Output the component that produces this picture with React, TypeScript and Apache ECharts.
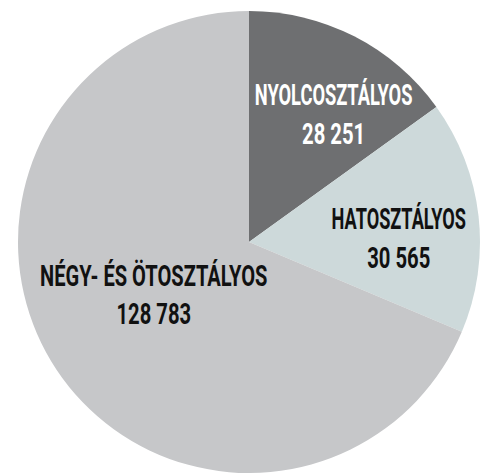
import React, { useEffect, useRef } from "react";
import * as echarts from "echarts";

const categories = ["NYOLCOSZTÁLYOS", "HATOSZTÁLYOS", "NÉGY- ÉS ÖTOSZTÁLYOS"];
const values = [28251, 30565, 128783];
const colors = ["#6e6f71", "#cdd9da", "#c6c7c9"];
const labelColors = ["#ffffff", "#111111", "#111111"];
const labelShift = [
  [32, -24],
  [35, 10],
  [1, -10],
];
const nameScale = [0.61, 0.605, 0.67];
const valueScale = 0.675;

const fmt = (v: number) => String(v).replace(/\B(?=(\d{3})+(?!\d))/g, " ");

export default function App() {
  const ref = useRef<HTMLDivElement>(null);
  useEffect(() => {
    document.body.style.margin = "0";
    const chart = echarts.init(ref.current!, null, { renderer: "svg" });
    chart.setOption({
      animation: false,
      backgroundColor: "#ffffff",
      series: [
        {
          type: "pie",
          center: [249, 242],
          radius: 231,
          startAngle: 90,
          clockwise: true,
          label: { show: false },
          labelLine: { show: false },
          emphasis: { disabled: true },
          data: categories.map((c, i) => ({
            name: c,
            value: values[i],
            itemStyle: { color: colors[i] },
          })),
        },
      ],
    });
    const data = (chart as any).getModel().getSeriesByIndex(0).getData();
    const texts: any[] = [];
    const baseStyle = {
      fontFamily: "Roboto, 'Liberation Sans', sans-serif",
      fontWeight: "bold",
      fontSize: 30,
      align: "center",
      verticalAlign: "middle",
    };
    categories.forEach((c, i) => {
      const l = data.getItemLayout(i);
      const mid = (l.startAngle + l.endAngle) / 2;
      const rr = (l.r + (l.r0 || 0)) / 2;
      const x = l.cx + rr * Math.cos(mid) + labelShift[i][0];
      const y = l.cy + rr * Math.sin(mid) + labelShift[i][1];
      texts.push({
        type: "text",
        x,
        y: y - 20,
        scaleX: nameScale[i],
        z: 10,
        silent: true,
        style: { ...baseStyle, text: c, fill: labelColors[i] },
      });
      texts.push({
        type: "text",
        x,
        y: y + 18,
        scaleX: valueScale,
        z: 10,
        silent: true,
        style: { ...baseStyle, text: fmt(values[i]), fill: labelColors[i] },
      });
    });
    chart.setOption({ graphic: texts });
    return () => chart.dispose();
  }, []);
  return <div ref={ref} style={{ width: 482, height: 473 }} />;
}
